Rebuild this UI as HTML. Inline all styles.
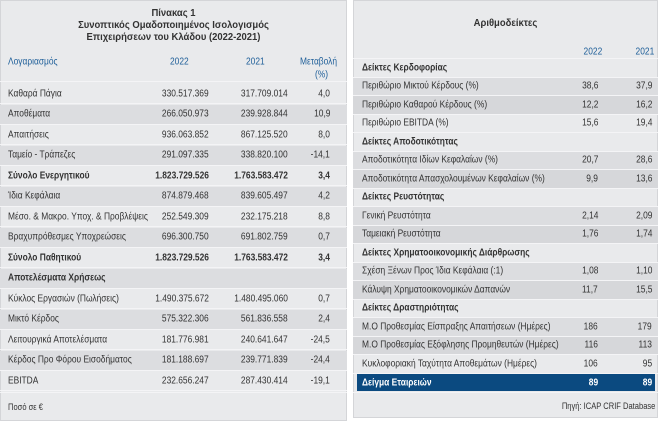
<!DOCTYPE html>
<html><head><meta charset="utf-8"><style>
*{margin:0;padding:0;box-sizing:border-box}
body{width:659px;height:422px;background:#fff;font-family:"Liberation Sans","DejaVu Sans",sans-serif;color:#333;font-size:10px;position:relative;overflow:hidden}
.p{position:absolute;background:#e9eaec;border:1px solid #d4d5d8}
.r{position:absolute;height:20px;border-bottom:1px solid #f4f4f6}
.d{background:#dcdde0}
.dd{background:#d6d7da}
.t{position:absolute;top:50%;white-space:nowrap;transform:translateY(-50%) scaleX(.84);transform-origin:left center}
.rt{transform-origin:right center}
.b{font-weight:bold}
.h{color:#1f5f99}
.ttl{position:absolute;width:100%;text-align:center;font-weight:bold;font-size:10.5px;line-height:12px;transform:scaleX(.9)}
.rr{position:absolute;left:0;width:305px;height:18.5px;border-bottom:1px solid #f4f4f6}
</style></head><body>
<div class="p" style="left:0;top:0;width:347px;height:421px"></div>
<div class="p" style="left:353px;top:0;width:305px;height:418px"></div>

<div class="ttl" style="left:0;width:347px;top:7px">Πίνακας 1<br>Συνοπτικός Ομαδοποιημένος Ισολογισμός<br>Επιχειρήσεων του Κλάδου (2022-2021)</div>
<div style="position:absolute;left:0;top:50px;width:347px;height:32px;border-bottom:1px solid #f4f4f6" class="h">
<span class="t" style="left:8px;top:12px">Λογαριασμός</span>
<span class="t" style="left:170px;top:12px">2022</span>
<span class="t" style="left:246px;top:12px">2021</span>
<span class="t" style="left:300px;top:12px">Μεταβολή</span>
<span class="t" style="left:315px;top:25px">(%)</span>
</div>

<div class="ttl" style="left:353px;width:305px;top:17px">Αριθμοδείκτες</div>
<div class="h" style="position:absolute;left:353px;top:45px;width:305px;height:14px;border-bottom:1px solid #f4f4f6">
<span class="t rt" style="right:56px">2022</span>
<span class="t rt" style="right:4px">2021</span>
</div>

<div style="position:absolute;left:0;top:392px;width:347px;border-top:1px solid #f4f4f6"></div>
<div style="position:absolute;left:353px;top:392px;width:305px;border-top:1px solid #f4f4f6"></div>
<span class="t" style="left:8px;top:407px;font-size:9px">Ποσό σε €</span>
<span class="t rt" style="right:4px;top:406px;font-size:9px">Πηγή: ICAP CRIF Database</span>

<div class="r" style="left:0;top:84px;width:347px"><span class="t" style="left:8px">Καθαρά Πάγια</span><span class="t rt" style="right:138px">330.517.369</span><span class="t rt" style="right:59px">317.709.014</span><span class="t rt" style="right:17px">4,0</span></div>
<div class="r d" style="left:0;top:104.5px;width:347px"><span class="t" style="left:8px">Αποθέματα</span><span class="t rt" style="right:138px">266.050.973</span><span class="t rt" style="right:59px">239.928.844</span><span class="t rt" style="right:17px">10,9</span></div>
<div class="r" style="left:0;top:125px;width:347px"><span class="t" style="left:8px">Απαιτήσεις</span><span class="t rt" style="right:138px">936.063.852</span><span class="t rt" style="right:59px">867.125.520</span><span class="t rt" style="right:17px">8,0</span></div>
<div class="r d" style="left:0;top:145.5px;width:347px"><span class="t" style="left:8px">Ταμείο - Τράπεζες</span><span class="t rt" style="right:138px">291.097.335</span><span class="t rt" style="right:59px">338.820.100</span><span class="t rt" style="right:17px">-14,1</span></div>
<div class="r b" style="left:0;top:166px;width:347px"><span class="t" style="left:8px">Σύνολο Ενεργητικού</span><span class="t rt" style="right:138px">1.823.729.526</span><span class="t rt" style="right:59px">1.763.583.472</span><span class="t rt" style="right:17px">3,4</span></div>
<div class="r d" style="left:0;top:186.5px;width:347px"><span class="t" style="left:8px">Ίδια Κεφάλαια</span><span class="t rt" style="right:138px">874.879.468</span><span class="t rt" style="right:59px">839.605.497</span><span class="t rt" style="right:17px">4,2</span></div>
<div class="r" style="left:0;top:207px;width:347px"><span class="t" style="left:8px">Μέσο. &amp; Μακρο. Υποχ. &amp; Προβλέψεις</span><span class="t rt" style="right:138px">252.549.309</span><span class="t rt" style="right:59px">232.175.218</span><span class="t rt" style="right:17px">8,8</span></div>
<div class="r d" style="left:0;top:227.5px;width:347px"><span class="t" style="left:8px">Βραχυπρόθεσμες Υποχρεώσεις</span><span class="t rt" style="right:138px">696.300.750</span><span class="t rt" style="right:59px">691.802.759</span><span class="t rt" style="right:17px">0,7</span></div>
<div class="r b" style="left:0;top:248px;width:347px"><span class="t" style="left:8px">Σύνολο Παθητικού</span><span class="t rt" style="right:138px">1.823.729.526</span><span class="t rt" style="right:59px">1.763.583.472</span><span class="t rt" style="right:17px">3,4</span></div>
<div class="r d" style="left:0;top:268.5px;width:347px"><span class="t b" style="left:8px">Αποτελέσματα Χρήσεως</span></div>
<div class="r" style="left:0;top:289px;width:347px"><span class="t" style="left:8px">Κύκλος Εργασιών (Πωλήσεις)</span><span class="t rt" style="right:138px">1.490.375.672</span><span class="t rt" style="right:59px">1.480.495.060</span><span class="t rt" style="right:17px">0,7</span></div>
<div class="r d" style="left:0;top:309.5px;width:347px"><span class="t" style="left:8px">Μικτό Κέρδος</span><span class="t rt" style="right:138px">575.322.306</span><span class="t rt" style="right:59px">561.836.558</span><span class="t rt" style="right:17px">2,4</span></div>
<div class="r" style="left:0;top:330px;width:347px"><span class="t" style="left:8px">Λειτουργικά Αποτελέσματα</span><span class="t rt" style="right:138px">181.776.981</span><span class="t rt" style="right:59px">240.641.647</span><span class="t rt" style="right:17px">-24,5</span></div>
<div class="r d" style="left:0;top:350.5px;width:347px"><span class="t" style="left:8px">Κέρδος Προ Φόρου Εισοδήματος</span><span class="t rt" style="right:138px">181.188.697</span><span class="t rt" style="right:59px">239.771.839</span><span class="t rt" style="right:17px">-24,4</span></div>
<div class="r" style="left:0;top:371px;width:347px"><span class="t" style="left:8px">EBITDA</span><span class="t rt" style="right:138px">232.656.247</span><span class="t rt" style="right:59px">287.430.414</span><span class="t rt" style="right:17px">-19,1</span></div>

<div style="position:absolute;left:353px;top:0;width:305px;height:422px">
<div class="rr" style="top:59px"><span class="t b" style="left:9px">Δείκτες Κερδοφορίας</span></div>
<div class="rr d" style="top:77.5px"><span class="t" style="left:9px">Περιθώριο Μικτού Κέρδους (%)</span><span class="t rt" style="right:60px">38,6</span><span class="t rt" style="right:6px">37,9</span></div>
<div class="rr dd" style="top:96px"><span class="t" style="left:9px">Περιθώριο Καθαρού Κέρδους (%)</span><span class="t rt" style="right:60px">12,2</span><span class="t rt" style="right:6px">16,2</span></div>
<div class="rr" style="top:114.5px"><span class="t" style="left:9px">Περιθώριο EBITDA (%)</span><span class="t rt" style="right:60px">15,6</span><span class="t rt" style="right:6px">19,4</span></div>
<div class="rr" style="top:133px"><span class="t b" style="left:9px">Δείκτες Αποδοτικότητας</span></div>
<div class="rr d" style="top:151.5px"><span class="t" style="left:9px">Αποδοτικότητα Ιδίων Κεφαλαίων (%)</span><span class="t rt" style="right:60px">20,7</span><span class="t rt" style="right:6px">28,6</span></div>
<div class="rr dd" style="top:170px"><span class="t" style="left:9px">Αποδοτικότητα Απασχολουμένων Κεφαλαίων (%)</span><span class="t rt" style="right:60px">9,9</span><span class="t rt" style="right:6px">13,6</span></div>
<div class="rr" style="top:188.5px"><span class="t b" style="left:9px">Δείκτες Ρευστότητας</span></div>
<div class="rr d" style="top:207px"><span class="t" style="left:9px">Γενική Ρευστότητα</span><span class="t rt" style="right:60px">2,14</span><span class="t rt" style="right:6px">2,09</span></div>
<div class="rr dd" style="top:225.5px"><span class="t" style="left:9px">Ταμειακή Ρευστότητα</span><span class="t rt" style="right:60px">1,76</span><span class="t rt" style="right:6px">1,74</span></div>
<div class="rr" style="top:244px"><span class="t b" style="left:9px">Δείκτες Χρηματοοικονομικής Διάρθρωσης</span></div>
<div class="rr d" style="top:262.5px"><span class="t" style="left:9px">Σχέση Ξένων Προς Ίδια Κεφάλαια (:1)</span><span class="t rt" style="right:60px">1,08</span><span class="t rt" style="right:6px">1,10</span></div>
<div class="rr dd" style="top:281px"><span class="t" style="left:9px">Κάλυψη Χρηματοοικονομικών Δαπανών</span><span class="t rt" style="right:60px">11,7</span><span class="t rt" style="right:6px">15,5</span></div>
<div class="rr" style="top:299.5px"><span class="t b" style="left:9px">Δείκτες Δραστηριότητας</span></div>
<div class="rr d" style="top:318px"><span class="t" style="left:9px">Μ.Ο Προθεσμίας Είσπραξης Απαιτήσεων (Ημέρες)</span><span class="t rt" style="right:60px">186</span><span class="t rt" style="right:6px">179</span></div>
<div class="rr dd" style="top:336.5px"><span class="t" style="left:9px">Μ.Ο Προθεσμίας Εξόφλησης Προμηθευτών (Ημέρες)</span><span class="t rt" style="right:60px">116</span><span class="t rt" style="right:6px">113</span></div>
<div class="rr" style="top:355px"><span class="t" style="left:9px">Κυκλοφοριακή Ταχύτητα Αποθεμάτων (Ημέρες)</span><span class="t rt" style="right:60px">106</span><span class="t rt" style="right:6px">95</span></div>
</div>
<div class="b" style="position:absolute;left:357px;top:374px;width:298px;height:17px;background:#0b4a80;color:#fff">
<span class="t" style="left:5px">Δείγμα Εταιρειών</span><span class="t rt" style="right:57px">89</span><span class="t rt" style="right:3px">89</span></div>
</body></html>
